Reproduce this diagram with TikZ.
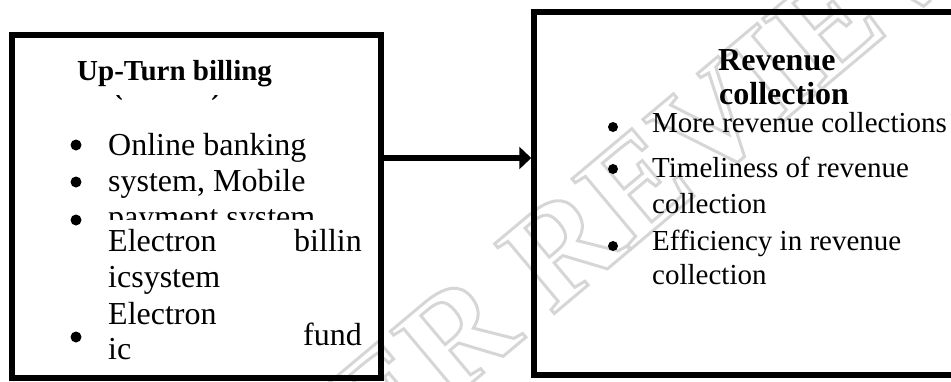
\documentclass[tikz,border=0pt]{standalone}
\usepackage{fontspec}
\setmainfont{Liberation Serif}
\usetikzlibrary{arrows.meta, calc}

\begin{document}
\begin{tikzpicture}[
  x=1pt, y=-1pt,
  panel/.style={
    rectangle,
    draw=black,
    line width=5.5pt,
    inner sep=0pt
  },
  head/.style={anchor=base west, inner sep=0pt, font=\fontsize{#1}{#1}\selectfont\bfseries},
  item/.style={anchor=base west, inner sep=0pt, font=\fontsize{#1}{#1}\selectfont},
  dot/.style={circle, fill=black, inner sep=0pt, minimum size=#1}
]
  \useasboundingbox (0,0) rectangle (951,381);
  \clip (0,0) rectangle (951,381);

  % watermark
  \node[rotate=40, text=black!16, font=\fontsize{140}{140}\selectfont\bfseries] (mark) at (590,225)
    {\special{pdf:literal direct 1 Tr 3 w}PEER REVIEW\special{pdf:literal direct 0 Tr}};

  % boxes
  \node[panel, minimum width=369pt, minimum height=343pt] (billing) at (196.5,206.5) {};
  \node[panel, minimum width=466pt, minimum height=363pt] (revenue) at (767,193.5) {};

  \coordinate (arrowy) at (0,158);
  \draw[line width=5.5pt, -{Triangle[length=12pt,width=22pt]}] (billing.east |- arrowy) -- (revenue.west |- arrowy);

  % left box
  \node[head=29] (bilhead) at (77,80) {Up-Turn billing};
  \begin{scope}
    \clip (100,95) rectangle (240,103);
    \node[head=29] (bilsub) at (113,94) {(\hspace{88.4pt})};
  \end{scope}
  \node[dot=11pt] (d1) at (76,145) {};
  \node[item=32] (l1) at (108,155) {Online banking};
  \node[dot=11pt] (d2) at (76,182) {};
  \node[item=32] (l2) at (108,191) {system, Mobile};
  \node[dot=11pt] (d3) at (76,220) {};
  \begin{scope}
    \clip (100,200) rectangle (340,219);
    \node[item=32] (l3) at (108,227) {payment system};
  \end{scope}
  \node[item=32] (l4) at (108,251) {Electron};
  \node[item=32, anchor=base east] (l4b) at (362,251) {billin};
  \node[item=32] (l5) at (108,287) {icsystem};
  \node[item=32] (l6) at (108,324) {Electron};
  \node[dot=11pt] (d4) at (76,337) {};
  \node[item=32, anchor=base east] (l6b) at (362,345) {fund};
  \node[item=32] (l7) at (108,359) {ic};

  % right box
  \node[head=32] (revhead) at (718,70) {Revenue};
  \node[head=32] (revhead2) at (719,104) {collection};
  \node[dot=10pt] (r1) at (613,127) {};
  \node[item=29] (m1) at (652,132) {More revenue collections};
  \node[dot=10pt] (r2) at (613,169) {};
  \node[item=29] (m2) at (652,177) {Timeliness of revenue};
  \node[item=29] (m3) at (652,213) {collection};
  \node[dot=10pt] (r3) at (613,246) {};
  \node[item=29] (m4) at (652,250) {Efficiency in revenue};
  \node[item=29] (m5) at (652,284) {collection};
\end{tikzpicture}
\end{document}
